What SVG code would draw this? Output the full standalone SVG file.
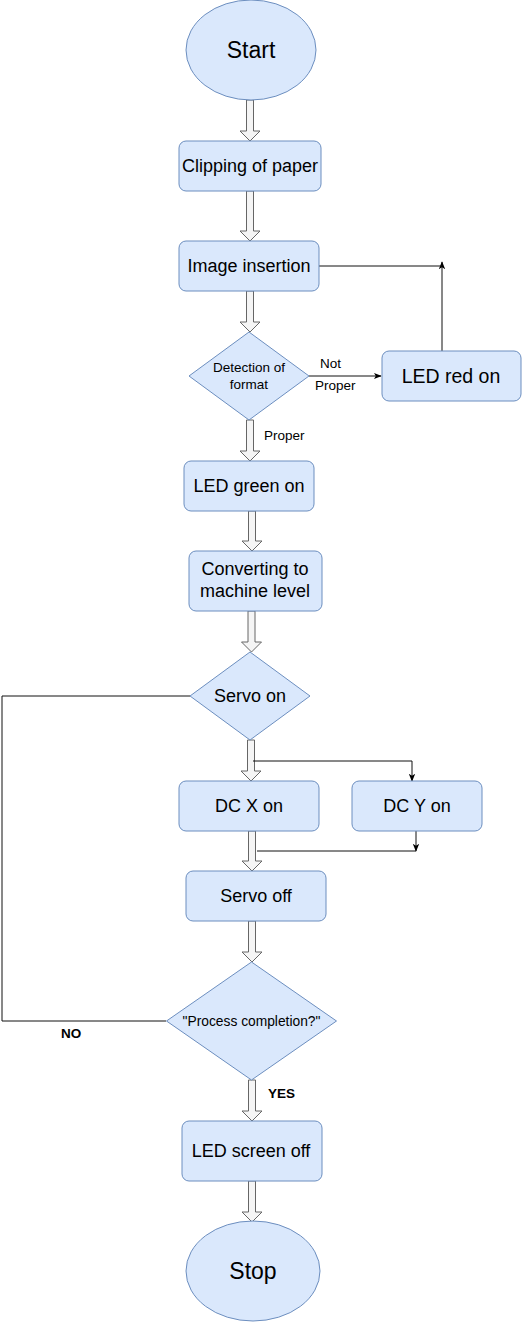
<svg xmlns="http://www.w3.org/2000/svg" width="524" height="1324" viewBox="0 0 524 1324">
<style>
.n{fill:#dae8fc;stroke:#6c8ebf;stroke-width:1}
.t{font-family:"Liberation Sans",Arial,sans-serif;font-size:18px;fill:#000;text-anchor:middle}
.s{font-family:"Liberation Sans",Arial,sans-serif;font-size:13.5px;fill:#000}
.b{font-family:"Liberation Sans",Arial,sans-serif;font-size:13.5px;font-weight:bold;fill:#000}
.ba{fill:#f5f5f5;stroke:#666;stroke-width:1}
.ln{fill:none;stroke:#111;stroke-width:1}
</style>
<defs>
<marker id="ah" viewBox="0 0 10 10" refX="9" refY="5" markerWidth="8" markerHeight="8" markerUnits="userSpaceOnUse" orient="auto">
<path d="M0,1 L10,5 L0,9 L2.5,5 Z" fill="#000"/>
</marker>
</defs>
<rect width="524" height="1324" fill="#fff"/>
<g id="connectors">
<polygon class="ba" points="246.5,100 253.5,100 253.5,131 260,131 250,141 240,131 246.5,131"/>
<polygon class="ba" points="246.5,191 253.5,191 253.5,231 260,231 250,241 240,231 246.5,231"/>
<polygon class="ba" points="246.5,291 253.5,291 253.5,322 260,322 250,332 240,322 246.5,322"/>
<polygon class="ba" points="246.5,420 253.5,420 253.5,451 260,451 250,461 240,451 246.5,451"/>
<polygon class="ba" points="248.5,511 255.5,511 255.5,541 262,541 252,551 242,541 248.5,541"/>
<polygon class="ba" points="248,611 255,611 255,642 261.5,642 251.5,652 241.5,642 248,642"/>
<polygon class="ba" points="247.5,740 254.5,740 254.5,771 261,771 251,781 241,771 247.5,771"/>
<polygon class="ba" points="248.5,831 255.5,831 255.5,861 262,861 252,871 242,861 248.5,861"/>
<polygon class="ba" points="248.5,921 255.5,921 255.5,952 262,952 252,962 242,952 248.5,952"/>
<polygon class="ba" points="248.5,1080 255.5,1080 255.5,1111 262,1111 252,1121 242,1111 248.5,1111"/>
<polygon class="ba" points="248.5,1181 255.5,1181 255.5,1212 262,1212 252,1222 242,1212 248.5,1212"/>
<path class="ln" d="M309,376 H381" marker-end="url(#ah)"/>
<path class="ln" d="M442,351 V262" marker-end="url(#ah)"/>
<path class="ln" d="M319,266 H442"/>
<path class="ln" d="M253,761 H412 V781" marker-end="url(#ah)"/>
<path class="ln" d="M416,831 V851" marker-end="url(#ah)"/>
<path class="ln" d="M416,851 H257"/>
<path class="ln" d="M190,696 H2 V1021 H166"/>
<text class="s" x="320" y="368">Not</text>
<text class="s" x="315" y="390">Proper</text>
<text class="s" x="264" y="440">Proper</text>
<text class="b" x="61" y="1038">NO</text>
<text class="b" x="268" y="1098">YES</text>
</g>
<g id="start"><ellipse class="n" cx="251" cy="50" rx="65" ry="50"/><text class="t" style="font-size:23px" x="251" y="58">Start</text></g>
<g id="clipping"><rect class="n" x="179" y="141" width="142" height="50" rx="7"/><text class="t" x="250" y="172">Clipping of paper</text></g>
<g id="image"><rect class="n" x="179" y="241" width="140" height="50" rx="7"/><text class="t" x="249" y="272">Image insertion</text></g>
<g id="detection"><polygon class="n" points="249,332 309,376 249,420 189,376"/><text class="t" style="font-size:13.5px" x="249" y="372">Detection of</text><text class="t" style="font-size:13.5px" x="249" y="389">format</text></g>
<g id="ledred"><rect class="n" x="382" y="351" width="139" height="50" rx="7"/><text class="t" style="font-size:19.5px" x="451" y="383">LED red on</text></g>
<g id="ledgreen"><rect class="n" x="184" y="461" width="130" height="50" rx="7"/><text class="t" x="249" y="492">LED green on</text></g>
<g id="converting"><rect class="n" x="189" y="551" width="133" height="60" rx="7"/><text class="t" x="255" y="575">Converting to</text><text class="t" x="255" y="597">machine level</text></g>
<g id="servoon"><polygon class="n" points="250,652 310,696 250,740 190,696"/><text class="t" x="250" y="702">Servo on</text></g>
<g id="dcx"><rect class="n" x="179" y="781" width="140" height="50" rx="7"/><text class="t" x="249" y="812">DC X on</text></g>
<g id="dcy"><rect class="n" x="352" y="781" width="130" height="50" rx="7"/><text class="t" x="417" y="812">DC Y on</text></g>
<g id="servooff"><rect class="n" x="186" y="871" width="140" height="50" rx="7"/><text class="t" x="256" y="902">Servo off</text></g>
<g id="process"><polygon class="n" points="251.5,962 336.5,1021 251.5,1080 166.5,1021"/><text class="t" style="font-size:13.8px" x="251.5" y="1026">"Process completion?"</text></g>
<g id="ledscreen"><rect class="n" x="182" y="1121" width="140" height="60" rx="7"/><text class="t" x="251" y="1157">LED screen off</text></g>
<g id="stop"><ellipse class="n" cx="253" cy="1271" rx="67" ry="50"/><text class="t" style="font-size:23px" x="253" y="1279">Stop</text></g>
</svg>
